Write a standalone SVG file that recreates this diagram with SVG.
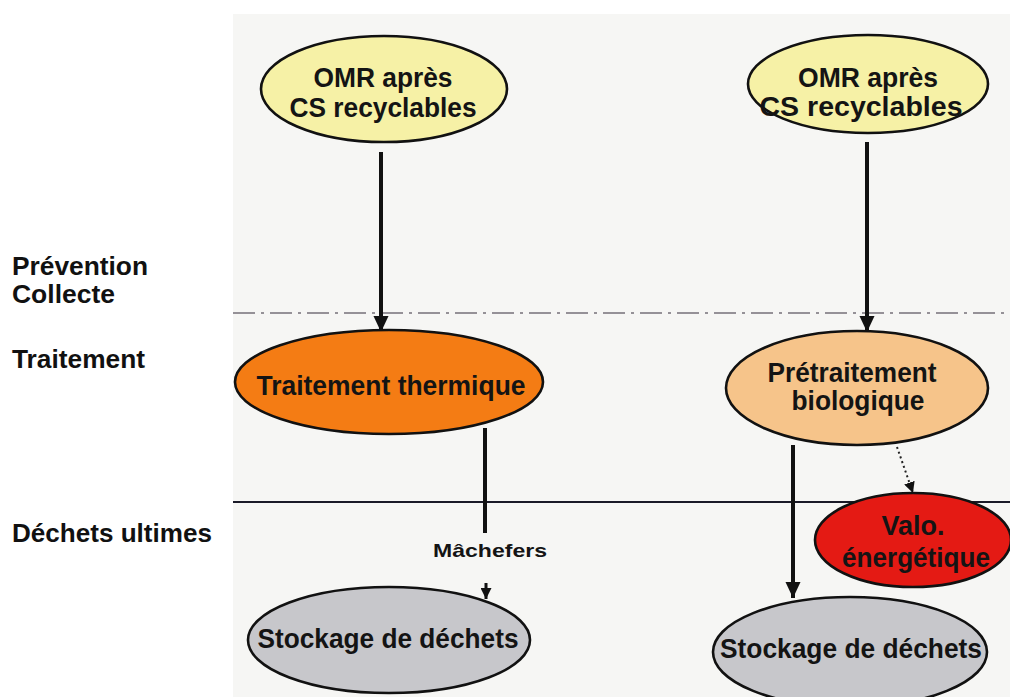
<svg xmlns="http://www.w3.org/2000/svg" width="1010" height="697" viewBox="0 0 1010 697">
<style>
  .lbl{font-family:"Liberation Sans",Arial,sans-serif;font-weight:bold;font-size:25px;fill:#111}
  .nt{font-family:"Liberation Sans",Arial,sans-serif;font-weight:bold;font-size:27px;fill:#141414;text-anchor:middle}
  .node{stroke:#111;stroke-width:2.6}
  .arrow{stroke:#111;stroke-width:4;fill:none}
</style>
<defs>
  <marker id="ah" markerUnits="userSpaceOnUse" markerWidth="16" markerHeight="18" refX="17" refY="8" orient="auto" viewBox="0 0 17 16">
    <path d="M0,0 L17,8 L0,16 z" fill="#111"/>
  </marker>
  <marker id="ahs" markerUnits="userSpaceOnUse" markerWidth="11" markerHeight="11" refX="11" refY="5.5" orient="auto" viewBox="0 0 11 11">
    <path d="M0,0 L11,5.5 L0,11 z" fill="#111"/>
  </marker>
</defs>
<rect x="0" y="0" width="1010" height="697" fill="#ffffff"/>
<rect x="233" y="14" width="777" height="683" fill="#f6f6f4"/>
<g id="labels">
  <text class="lbl" x="12" y="275" textLength="136" lengthAdjust="spacingAndGlyphs">Prévention</text>
  <text class="lbl" x="12" y="303" textLength="103" lengthAdjust="spacingAndGlyphs">Collecte</text>
  <text class="lbl" x="12" y="368" textLength="133" lengthAdjust="spacingAndGlyphs">Traitement</text>
  <text class="lbl" x="12" y="542" textLength="200" lengthAdjust="spacingAndGlyphs">Déchets  ultimes</text>
</g>
<g id="separators">
  <line x1="233" y1="313" x2="1010" y2="313" stroke="#767078" stroke-width="1.5" stroke-dasharray="22 6 3 6"/>
  <line x1="233" y1="502" x2="1010" y2="502" stroke="#1a1a28" stroke-width="2.2"/>
</g>
<g id="connectors">
  <line class="arrow" x1="381" y1="152" x2="381" y2="332" marker-end="url(#ah)"/>
  <line class="arrow" x1="867" y1="142" x2="867" y2="332" marker-end="url(#ah)"/>
  <line class="arrow" x1="485" y1="428" x2="485" y2="533"/>
  <line stroke="#111" stroke-width="3" x1="486" y1="583" x2="486" y2="599" marker-end="url(#ahs)"/>
  <line class="arrow" x1="793" y1="445" x2="793" y2="598" marker-end="url(#ah)"/>
  <line stroke="#222" stroke-width="2" stroke-dasharray="2 3" x1="897" y1="447" x2="913" y2="493" marker-end="url(#ahs)"/>
  <text class="nt" x="490" y="557" style="font-size:19px" textLength="114" lengthAdjust="spacingAndGlyphs">Mâchefers</text>
</g>
<g id="omr-left">
  <ellipse class="node" cx="384" cy="89" rx="123" ry="53" fill="#f6f1a6"/>
  <text class="nt" x="383" y="87" textLength="139" lengthAdjust="spacingAndGlyphs">OMR après</text>
  <text class="nt" x="383" y="117" textLength="187" lengthAdjust="spacingAndGlyphs">CS recyclables</text>
</g>
<g id="omr-right">
  <ellipse class="node" cx="868" cy="84" rx="120" ry="49" fill="#f6f1a6"/>
  <text class="nt" x="868" y="87" textLength="140" lengthAdjust="spacingAndGlyphs">OMR après</text>
  <text class="nt" x="861" y="116" textLength="203" lengthAdjust="spacingAndGlyphs">CS recyclables</text>
</g>
<g id="traitement-thermique">
  <ellipse class="node" cx="389" cy="382" rx="154" ry="52" fill="#f47c14"/>
  <text class="nt" x="391" y="395" textLength="269" lengthAdjust="spacingAndGlyphs">Traitement thermique</text>
</g>
<g id="pretraitement">
  <ellipse class="node" cx="857" cy="388" rx="131" ry="57" fill="#f6c48a"/>
  <text class="nt" x="852" y="382" textLength="169" lengthAdjust="spacingAndGlyphs">Prétraitement</text>
  <text class="nt" x="858" y="410" textLength="133" lengthAdjust="spacingAndGlyphs">biologique</text>
</g>
<g id="valo">
  <ellipse class="node" cx="913" cy="540" rx="98" ry="47" fill="#e41a14"/>
  <text class="nt" x="913" y="535" textLength="63" lengthAdjust="spacingAndGlyphs">Valo.</text>
  <text class="nt" x="916" y="567" textLength="148" lengthAdjust="spacingAndGlyphs">énergétique</text>
</g>
<g id="stockage-left">
  <ellipse class="node" cx="389" cy="640" rx="141" ry="53" fill="#c7c7cb"/>
  <text class="nt" x="388" y="648" textLength="261" lengthAdjust="spacingAndGlyphs">Stockage de déchets</text>
</g>
<g id="stockage-right">
  <ellipse class="node" cx="850" cy="652" rx="137" ry="55" fill="#c7c7cb"/>
  <text class="nt" x="851" y="658" textLength="262" lengthAdjust="spacingAndGlyphs">Stockage de déchets</text>
</g>
</svg>
